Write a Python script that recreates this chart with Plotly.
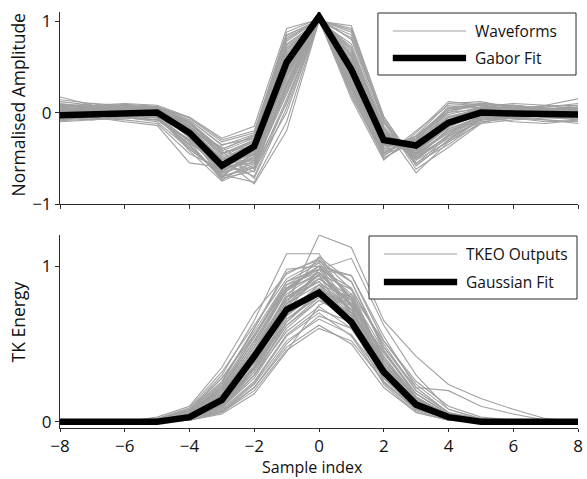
import plotly.graph_objects as go

x = [-8, -7, -6, -5, -4, -3, -2, -1, 0, 1, 2, 3, 4, 5, 6, 7, 8]

gabor_fit = [-0.03, -0.02, 0.00, 0.00, -0.22, -0.58, -0.37, 0.55, 1.05, 0.47, -0.30, -0.36, -0.11, 0.00, -0.01, -0.02, -0.02]
gauss_fit = [0.00, 0.00, 0.00, 0.00, 0.03, 0.14, 0.42, 0.72, 0.83, 0.64, 0.32, 0.11, 0.03, 0.00, 0.00, 0.00, 0.00]

waveforms = [
    [0.02, 0.01, 0.03, 0.00, -0.20, -0.55, -0.40, 0.50, 1.00, 0.45, -0.30, -0.35, -0.10, 0.02, 0.00, -0.02, -0.03],
    [-0.05, -0.03, 0.05, 0.02, -0.15, -0.60, -0.55, 0.30, 1.02, 0.60, -0.25, -0.40, -0.15, 0.03, 0.05, 0.02, 0.00],
    [0.17, 0.08, 0.06, 0.05, -0.10, -0.45, -0.30, 0.70, 1.00, 0.35, -0.35, -0.30, -0.05, 0.05, 0.03, -0.05, -0.08],
    [-0.08, -0.05, -0.02, -0.05, -0.35, -0.70, -0.60, 0.10, 1.03, 0.80, -0.15, -0.50, -0.25, -0.05, 0.00, 0.02, 0.04],
    [0.05, 0.08, 0.10, 0.08, -0.05, -0.30, -0.20, 0.85, 1.01, 0.20, -0.45, -0.25, 0.10, 0.12, 0.05, 0.00, 0.02],
    [-0.02, 0.00, -0.05, -0.10, -0.40, -0.65, -0.45, 0.40, 1.00, 0.50, -0.30, -0.45, -0.20, -0.08, -0.05, -0.03, -0.05],
    [0.03, 0.05, 0.02, 0.03, -0.25, -0.72, -0.35, 0.60, 1.04, 0.30, -0.40, -0.35, -0.10, 0.00, 0.08, 0.05, 0.03],
    [-0.10, -0.08, -0.06, -0.08, -0.30, -0.50, -0.78, -0.20, 1.00, 0.95, -0.05, -0.55, -0.35, -0.10, -0.06, -0.08, -0.10],
    [0.08, 0.06, 0.04, 0.02, -0.12, -0.40, -0.25, 0.80, 1.02, 0.25, -0.50, -0.30, 0.05, 0.08, 0.04, 0.06, 0.10],
    [0.00, 0.02, 0.08, 0.06, -0.18, -0.58, -0.42, 0.50, 1.00, 0.55, -0.28, -0.38, -0.12, 0.00, -0.02, -0.05, -0.04],
    [-0.04, -0.06, -0.08, -0.12, -0.45, -0.62, -0.50, 0.25, 1.01, 0.70, -0.20, -0.48, -0.18, -0.05, -0.10, -0.12, -0.08],
    [0.10, 0.06, 0.05, 0.06, -0.08, -0.35, -0.28, 0.75, 1.00, 0.40, -0.35, -0.28, 0.00, 0.10, 0.06, 0.04, 0.05],
    [0.02, -0.02, 0.00, -0.03, -0.22, -0.68, -0.48, 0.45, 1.03, 0.50, -0.32, -0.42, -0.15, -0.02, 0.02, 0.00, -0.02],
    [-0.06, -0.04, 0.02, 0.04, -0.28, -0.48, -0.65, 0.15, 1.00, 0.85, -0.10, -0.58, -0.30, -0.06, -0.02, 0.04, 0.06],
    [0.04, 0.03, 0.06, 0.05, -0.05, -0.28, -0.15, 0.92, 1.02, 0.15, -0.52, -0.22, 0.12, 0.08, 0.02, -0.02, 0.00],
    [-0.03, 0.00, 0.03, 0.00, -0.20, -0.62, -0.38, 0.55, 1.01, 0.48, -0.28, -0.40, -0.08, 0.04, 0.06, 0.02, -0.05],
    [0.06, 0.10, 0.04, -0.02, -0.32, -0.74, -0.52, 0.35, 1.00, 0.62, -0.22, -0.45, -0.22, -0.04, 0.00, 0.03, 0.08],
    [-0.08, -0.05, -0.10, -0.14, -0.55, -0.60, -0.40, 0.45, 1.02, 0.42, -0.36, -0.36, -0.05, 0.02, -0.04, -0.08, -0.12],
    [0.00, 0.04, 0.06, 0.04, -0.15, -0.52, -0.45, 0.60, 1.00, 0.35, -0.42, -0.32, -0.02, 0.06, 0.10, 0.08, 0.04],
    [0.12, 0.08, 0.07, 0.05, -0.10, -0.42, -0.72, 0.05, 1.01, 0.90, -0.08, -0.62, -0.38, -0.12, -0.02, 0.02, 0.00],
    [-0.02, -0.02, 0.00, 0.02, -0.25, -0.56, -0.36, 0.58, 1.04, 0.45, -0.30, -0.38, -0.12, 0.00, 0.00, -0.03, -0.04],
    [0.03, 0.02, -0.04, -0.06, -0.38, -0.70, -0.58, 0.20, 1.00, 0.75, -0.18, -0.50, -0.28, -0.08, -0.04, 0.00, 0.02],
    [-0.05, -0.06, 0.01, 0.03, -0.12, -0.45, -0.32, 0.68, 1.02, 0.30, -0.44, -0.28, 0.02, 0.10, 0.08, 0.04, 0.02],
    [0.07, 0.05, 0.02, 0.00, -0.22, -0.60, -0.44, 0.48, 1.00, 0.52, -0.26, -0.44, -0.16, 0.00, 0.02, 0.00, -0.02],
    [-0.09, -0.07, -0.04, -0.02, -0.18, -0.38, -0.62, 0.00, 1.01, 0.88, -0.12, -0.52, -0.32, -0.12, -0.08, -0.06, -0.06],
    [0.02, 0.06, 0.09, 0.07, -0.06, -0.32, -0.22, 0.88, 1.03, 0.18, -0.48, -0.20, 0.08, 0.10, 0.06, 0.03, 0.06],
    [-0.01, 0.01, -0.03, -0.05, -0.30, -0.64, -0.46, 0.38, 1.00, 0.58, -0.24, -0.46, -0.20, -0.04, 0.00, 0.01, 0.00],
    [0.05, 0.03, 0.05, 0.03, -0.16, -0.50, -0.34, 0.62, 1.02, 0.40, -0.34, -0.34, -0.06, 0.04, 0.03, -0.01, -0.04],
    [-0.03, -0.04, -0.02, -0.04, -0.42, -0.75, -0.60, 0.28, 1.01, 0.68, -0.16, -0.66, -0.32, -0.08, -0.04, -0.02, 0.00],
    [0.09, 0.07, 0.05, 0.04, -0.14, -0.46, -0.30, 0.74, 1.00, 0.32, -0.40, -0.26, 0.04, 0.06, 0.05, 0.07, 0.08],
    [0.00, -0.01, 0.02, 0.01, -0.26, -0.58, -0.40, 0.52, 1.02, 0.48, -0.30, -0.40, -0.14, -0.02, 0.01, -0.01, -0.03],
    [-0.06, -0.03, -0.06, -0.08, -0.34, -0.54, -0.70, 0.12, 1.00, 0.82, -0.08, -0.56, -0.26, -0.06, -0.06, -0.04, -0.02],
    [0.04, 0.02, 0.01, -0.01, -0.20, -0.66, -0.50, 0.42, 1.03, 0.56, -0.34, -0.44, -0.10, 0.02, 0.04, 0.02, 0.01],
    [0.01, 0.03, 0.04, 0.02, -0.10, -0.40, -0.26, 0.82, 1.01, 0.28, -0.46, -0.32, 0.00, 0.04, 0.00, -0.02, 0.00],
    [-0.04, -0.02, 0.00, -0.02, -0.24, -0.62, -0.42, 0.50, 1.00, 0.46, -0.32, -0.36, -0.12, -0.02, 0.02, 0.00, -0.06],
    [0.03, 0.00, 0.03, 0.05, -0.18, -0.54, -0.38, 0.56, 1.02, 0.44, -0.28, -0.42, -0.16, 0.01, 0.03, 0.05, 0.02],
    [0.14, 0.10, 0.08, 0.02, -0.28, -0.66, -0.56, 0.22, 1.01, 0.72, -0.20, -0.52, -0.24, -0.02, 0.04, 0.08, 0.15],
    [-0.07, -0.02, 0.04, 0.06, -0.08, -0.36, -0.24, 0.84, 1.02, 0.22, -0.50, -0.28, 0.06, 0.09, 0.02, -0.04, -0.06],
    [0.01, 0.04, -0.02, -0.06, -0.36, -0.72, -0.64, 0.30, 1.00, 0.64, -0.22, -0.48, -0.26, -0.10, -0.06, -0.03, 0.01],
    [0.06, 0.02, 0.06, 0.04, -0.14, -0.48, -0.32, 0.66, 1.03, 0.36, -0.38, -0.30, 0.02, 0.08, 0.02, 0.00, 0.03],
    [-0.05, -0.08, -0.04, -0.08, -0.30, -0.56, -0.46, 0.44, 1.00, 0.54, -0.26, -0.50, -0.18, -0.04, -0.06, -0.10, -0.09],
    [0.03, 0.06, 0.03, 0.01, -0.22, -0.60, -0.52, 0.40, 1.02, 0.62, -0.24, -0.40, -0.08, 0.06, 0.08, 0.04, 0.01],
    [-0.02, 0.02, 0.05, 0.03, -0.16, -0.44, -0.36, 0.72, 1.00, 0.38, -0.36, -0.34, -0.04, 0.03, 0.01, 0.02, 0.03],
    [0.08, 0.04, 0.00, -0.04, -0.40, -0.68, -0.76, -0.10, 1.01, 0.92, -0.04, -0.58, -0.30, -0.08, -0.03, 0.00, 0.05],
    [0.00, -0.03, -0.01, 0.00, -0.20, -0.52, -0.34, 0.64, 1.04, 0.42, -0.34, -0.38, -0.10, 0.00, 0.02, -0.02, -0.05],
    [-0.03, 0.01, 0.02, 0.01, -0.26, -0.70, -0.44, 0.46, 1.00, 0.50, -0.30, -0.44, -0.14, 0.01, 0.05, 0.03, 0.00],
    [0.05, 0.05, 0.07, 0.06, -0.12, -0.42, -0.28, 0.78, 1.02, 0.26, -0.44, -0.26, 0.04, 0.10, 0.07, 0.05, 0.04],
    [-0.04, -0.05, -0.03, -0.06, -0.32, -0.62, -0.54, 0.32, 1.01, 0.66, -0.18, -0.46, -0.22, -0.06, -0.03, -0.05, -0.07],
    [0.02, 0.00, 0.01, 0.00, -0.18, -0.56, -0.40, 0.54, 1.00, 0.46, -0.30, -0.36, -0.08, 0.03, 0.01, 0.00, -0.01],
    [-0.01, 0.03, 0.04, 0.02, -0.24, -0.64, -0.48, 0.48, 1.03, 0.52, -0.28, -0.42, -0.12, 0.02, 0.04, 0.02, 0.00],
]

tkeo_outputs = [
    [0, 0, 0, 0.00, 0.02, 0.12, 0.38, 0.70, 0.85, 0.68, 0.35, 0.12, 0.03, 0.00, 0, 0, 0],
    [0, 0, 0, 0.01, 0.05, 0.20, 0.50, 0.85, 1.00, 0.80, 0.40, 0.15, 0.04, 0.01, 0, 0, 0],
    [0, 0, 0, 0.02, 0.08, 0.30, 0.65, 1.08, 1.08, 0.75, 0.30, 0.08, 0.02, 0.00, 0, 0, 0],
    [0, 0, 0, 0.00, 0.01, 0.08, 0.25, 0.55, 0.70, 0.55, 0.25, 0.08, 0.02, 0.00, 0, 0, 0],
    [0, 0, 0, 0.00, 0.03, 0.15, 0.42, 0.78, 0.95, 0.85, 0.50, 0.20, 0.06, 0.02, 0, 0, 0],
    [0, 0, 0, 0.01, 0.06, 0.22, 0.55, 0.90, 0.98, 0.70, 0.30, 0.10, 0.02, 0.00, 0, 0, 0],
    [0, 0, 0, 0.00, 0.02, 0.10, 0.32, 0.62, 0.80, 0.75, 0.45, 0.18, 0.05, 0.01, 0, 0, 0],
    [0, 0, 0, 0.03, 0.10, 0.35, 0.70, 0.95, 1.05, 0.85, 0.38, 0.12, 0.03, 0.00, 0, 0, 0],
    [0, 0, 0, 0.00, 0.01, 0.06, 0.22, 0.48, 0.62, 0.50, 0.22, 0.06, 0.01, 0.00, 0, 0, 0],
    [0, 0, 0, 0.00, 0.04, 0.18, 0.48, 0.80, 0.90, 0.65, 0.28, 0.08, 0.02, 0.00, 0, 0, 0],
    [0, 0, 0, 0.01, 0.05, 0.20, 0.45, 0.75, 1.20, 1.12, 0.65, 0.42, 0.24, 0.15, 0.08, 0.02, 0],
    [0, 0, 0, 0.00, 0.02, 0.12, 0.35, 0.68, 0.88, 0.72, 0.40, 0.14, 0.04, 0.01, 0, 0, 0],
    [0, 0, 0, 0.00, 0.03, 0.14, 0.40, 0.74, 0.92, 0.78, 0.42, 0.16, 0.04, 0.00, 0, 0, 0],
    [0, 0, 0, 0.02, 0.07, 0.25, 0.60, 0.98, 1.00, 0.68, 0.26, 0.07, 0.01, 0.00, 0, 0, 0],
    [0, 0, 0, 0.00, 0.01, 0.05, 0.18, 0.45, 0.75, 0.82, 0.52, 0.26, 0.10, 0.03, 0.01, 0, 0],
    [0, 0, 0, 0.00, 0.02, 0.10, 0.30, 0.58, 0.74, 0.60, 0.30, 0.10, 0.02, 0.00, 0, 0, 0],
    [0, 0, 0, 0.01, 0.04, 0.16, 0.44, 0.82, 0.96, 0.74, 0.34, 0.11, 0.03, 0.00, 0, 0, 0],
    [0, 0, 0, 0.00, 0.03, 0.12, 0.34, 0.66, 0.82, 0.70, 0.38, 0.14, 0.03, 0.00, 0, 0, 0],
    [0, 0, 0, 0.02, 0.09, 0.32, 0.62, 0.92, 1.03, 0.90, 0.48, 0.22, 0.20, 0.10, 0.05, 0.01, 0],
    [0, 0, 0, 0.00, 0.02, 0.09, 0.28, 0.60, 0.78, 0.66, 0.36, 0.13, 0.03, 0.00, 0, 0, 0],
    [0, 0, 0, 0.01, 0.05, 0.22, 0.52, 0.86, 0.94, 0.62, 0.24, 0.06, 0.01, 0.00, 0, 0, 0],
    [0, 0, 0, 0.00, 0.02, 0.11, 0.36, 0.72, 0.86, 0.72, 0.36, 0.12, 0.03, 0.00, 0, 0, 0],
    [0, 0, 0, 0.00, 0.03, 0.14, 0.38, 0.70, 0.98, 1.05, 0.62, 0.30, 0.08, 0.02, 0, 0, 0],
    [0, 0, 0, 0.01, 0.06, 0.24, 0.56, 0.88, 0.96, 0.72, 0.32, 0.10, 0.02, 0.00, 0, 0, 0],
    [0, 0, 0, 0.00, 0.01, 0.07, 0.24, 0.52, 0.66, 0.56, 0.28, 0.09, 0.02, 0.00, 0, 0, 0],
    [0, 0, 0, 0.00, 0.04, 0.17, 0.46, 0.80, 0.92, 0.76, 0.36, 0.12, 0.03, 0.00, 0, 0, 0],
    [0, 0, 0, 0.02, 0.07, 0.28, 0.58, 0.90, 1.02, 0.80, 0.36, 0.10, 0.02, 0.00, 0, 0, 0],
    [0, 0, 0, 0.00, 0.02, 0.10, 0.34, 0.64, 0.84, 0.76, 0.44, 0.18, 0.05, 0.01, 0, 0, 0],
    [0, 0, 0, 0.01, 0.04, 0.18, 0.48, 0.84, 1.00, 0.82, 0.40, 0.14, 0.03, 0.00, 0, 0, 0],
    [0, 0, 0, 0.00, 0.03, 0.13, 0.40, 0.76, 0.88, 0.64, 0.30, 0.09, 0.02, 0.00, 0, 0, 0],
    [0, 0, 0, 0.00, 0.02, 0.08, 0.26, 0.56, 0.72, 0.64, 0.34, 0.12, 0.03, 0.00, 0, 0, 0],
    [0, 0, 0, 0.01, 0.05, 0.21, 0.52, 0.86, 1.00, 0.94, 0.55, 0.22, 0.06, 0.01, 0, 0, 0],
    [0, 0, 0, 0.00, 0.02, 0.11, 0.32, 0.66, 0.80, 0.62, 0.28, 0.09, 0.02, 0.00, 0, 0, 0],
    [0, 0, 0, 0.01, 0.04, 0.16, 0.42, 0.78, 0.94, 0.80, 0.42, 0.15, 0.04, 0.01, 0, 0, 0],
    [0, 0, 0, 0.00, 0.03, 0.15, 0.44, 0.80, 1.06, 0.90, 0.46, 0.16, 0.04, 0.00, 0, 0, 0],
    [0, 0, 0, 0.00, 0.02, 0.12, 0.36, 0.68, 0.86, 0.70, 0.36, 0.12, 0.03, -0.01, 0, 0, 0],
    [0, 0, 0, 0.01, 0.05, 0.19, 0.50, 0.84, 0.96, 0.76, 0.38, 0.12, 0.03, 0.00, 0, 0, 0],
    [0, 0, 0, 0.00, 0.02, 0.10, 0.30, 0.62, 0.78, 0.70, 0.40, 0.16, 0.04, 0.01, 0, 0, 0],
    [0, 0, 0, 0.02, 0.07, 0.26, 0.60, 0.96, 1.04, 0.78, 0.34, 0.10, 0.02, 0.00, 0, 0, 0],
    [0, 0, 0, 0.00, 0.03, 0.14, 0.38, 0.70, 0.88, 0.80, 0.46, 0.18, 0.05, 0.01, 0, 0, 0],
    [0, 0, 0, 0.00, 0.01, 0.07, 0.22, 0.50, 0.68, 0.60, 0.32, 0.12, 0.03, 0.00, 0, 0, 0],
    [0, 0, 0, 0.01, 0.04, 0.18, 0.46, 0.80, 0.94, 0.70, 0.30, 0.09, 0.02, 0.00, 0, 0, 0],
    [0, 0, 0, 0.00, 0.02, 0.12, 0.36, 0.74, 0.98, 0.94, 0.52, 0.24, 0.08, 0.02, 0, 0, 0],
    [0, 0, 0, 0.01, 0.06, 0.23, 0.54, 0.88, 1.00, 0.74, 0.32, 0.10, 0.02, 0.00, 0, 0, 0],
    [0, 0, 0, 0.00, 0.02, 0.09, 0.30, 0.64, 0.82, 0.68, 0.34, 0.11, 0.02, 0.00, 0, 0, 0],
    [0, 0, 0, 0.00, 0.03, 0.16, 0.44, 0.78, 0.90, 0.72, 0.36, 0.12, 0.03, 0.00, 0, 0, 0],
    [0, 0, 0, 0.02, 0.08, 0.28, 0.56, 0.86, 0.98, 0.86, 0.48, 0.20, 0.06, 0.01, 0, 0, 0],
    [0, 0, 0, 0.00, 0.02, 0.11, 0.34, 0.68, 0.84, 0.66, 0.30, 0.10, 0.02, 0.00, 0, 0, 0],
    [0, 0, 0, 0.01, 0.04, 0.15, 0.40, 0.76, 0.92, 0.78, 0.40, 0.14, 0.04, 0.00, 0, 0, 0],
    [0, 0, 0, 0.00, 0.01, 0.06, 0.20, 0.46, 0.60, 0.52, 0.26, 0.08, 0.02, 0.00, 0, 0, 0],
]

x_ticks = [-8, -6, -4, -2, 0, 2, 4, 6, 8]
top_y_ticks = [-1, 0, 1]
bottom_y_ticks = [0, 1]

GREY = "#a0a0a0"
AXC = "#2b2b2b"
TXT = "#111111"
FONT = "Open Sans, Noto Sans, sans-serif"

W, H = 587, 479
L, R, T, B = 60, 4, 12, 51
PW, PH = W - L - R, H - T - B

fig = go.Figure()

for wf in waveforms:
    fig.add_trace(go.Scatter(x=x, y=wf, mode="lines", line=dict(color=GREY, width=1.1),
                             xaxis="x", yaxis="y", showlegend=False, hoverinfo="skip"))
fig.add_trace(go.Scatter(x=x, y=gabor_fit, mode="lines", line=dict(color="black", width=6.5),
                         xaxis="x", yaxis="y", showlegend=False))
for tk in tkeo_outputs:
    fig.add_trace(go.Scatter(x=x, y=tk, mode="lines", line=dict(color=GREY, width=1.1),
                             xaxis="x2", yaxis="y2", showlegend=False, hoverinfo="skip"))
fig.add_trace(go.Scatter(x=x, y=gauss_fit, mode="lines", line=dict(color="black", width=6.5),
                         xaxis="x2", yaxis="y2", showlegend=False))


def px(v):
    return (v - L) / PW


def py(v):
    return (H - B - v) / PH


top_dom = [py(204), 1.0]
bot_dom = [0.0, py(235)]

axis_common = dict(showline=True, linecolor=AXC, linewidth=1, ticks="outside", ticklen=4,
                   tickcolor=AXC, tickwidth=1, showgrid=False, zeroline=False, mirror=False,
                   ticklabeloverflow="allow",
                   tickfont=dict(family=FONT, size=17, color=TXT))

x2_axis = dict(axis_common)
x2_axis["ticklen"] = 3

fig.update_layout(
    width=W, height=H,
    margin=dict(l=L, r=R, t=T, b=B),
    paper_bgcolor="white", plot_bgcolor="white",
    font=dict(family=FONT, color=TXT),
    xaxis=dict(domain=[0, 1], range=[-8, 8], tickvals=x_ticks, showticklabels=False,
               anchor="y", **axis_common),
    yaxis=dict(domain=top_dom, range=[-1, 1.1], tickvals=top_y_ticks, anchor="x", **axis_common),
    xaxis2=dict(domain=[0, 1], range=[-8, 8], tickvals=x_ticks, anchor="y2", **x2_axis),
    yaxis2=dict(domain=bot_dom, range=[-0.04, 1.2], tickvals=bottom_y_ticks, anchor="x2", **axis_common),
)

# axis titles
titles = [
    ("Normalised Amplitude", 18, 105, -90, 17.5, "middle"),
    ("TK Energy", 18, 322, -90, 17.5, "middle"),
    ("Sample index", 315, 479, 0, 16, "bottom"),
]
for text, tx, ty, ang, fs, ya in titles:
    fig.add_annotation(xref="paper", yref="paper", x=px(tx), y=py(ty), text=text, showarrow=False,
                       xanchor="center", yanchor=ya, textangle=ang, borderpad=0,
                       font=dict(family=FONT, size=fs, color=TXT))

# custom legends (layout decoration)
legends = [
    dict(box=(381, 13, 581, 75), lx=(396, 470), tx=477, rows=[(31, "Waveforms", 1, GREY), (58, "Gabor Fit", 6.5, "black")]),
    dict(box=(372, 236, 582, 299), lx=(387, 461), tx=468, rows=[(254, "TKEO Outputs", 1, GREY), (282, "Gaussian Fit", 6.5, "black")]),
]
for lg in legends:
    x0, y0, x1, y1 = lg["box"]
    fig.add_shape(type="rect", xref="paper", yref="paper", x0=px(x0), x1=px(x1), y0=py(y1), y1=py(y0),
                  line=dict(color=AXC, width=1), fillcolor="white", layer="above")
    for yy, label, lw, col in lg["rows"]:
        fig.add_shape(type="line", xref="paper", yref="paper", x0=px(lg["lx"][0]), x1=px(lg["lx"][1]),
                      y0=py(yy), y1=py(yy), line=dict(color=col, width=lw), layer="above")
        fig.add_annotation(xref="paper", yref="paper", x=px(lg["tx"]), y=py(yy), text=label,
                           showarrow=False, xanchor="left", yanchor="middle",
                           font=dict(family=FONT, size=15.5, color=TXT))

fig.write_html("out.html")
